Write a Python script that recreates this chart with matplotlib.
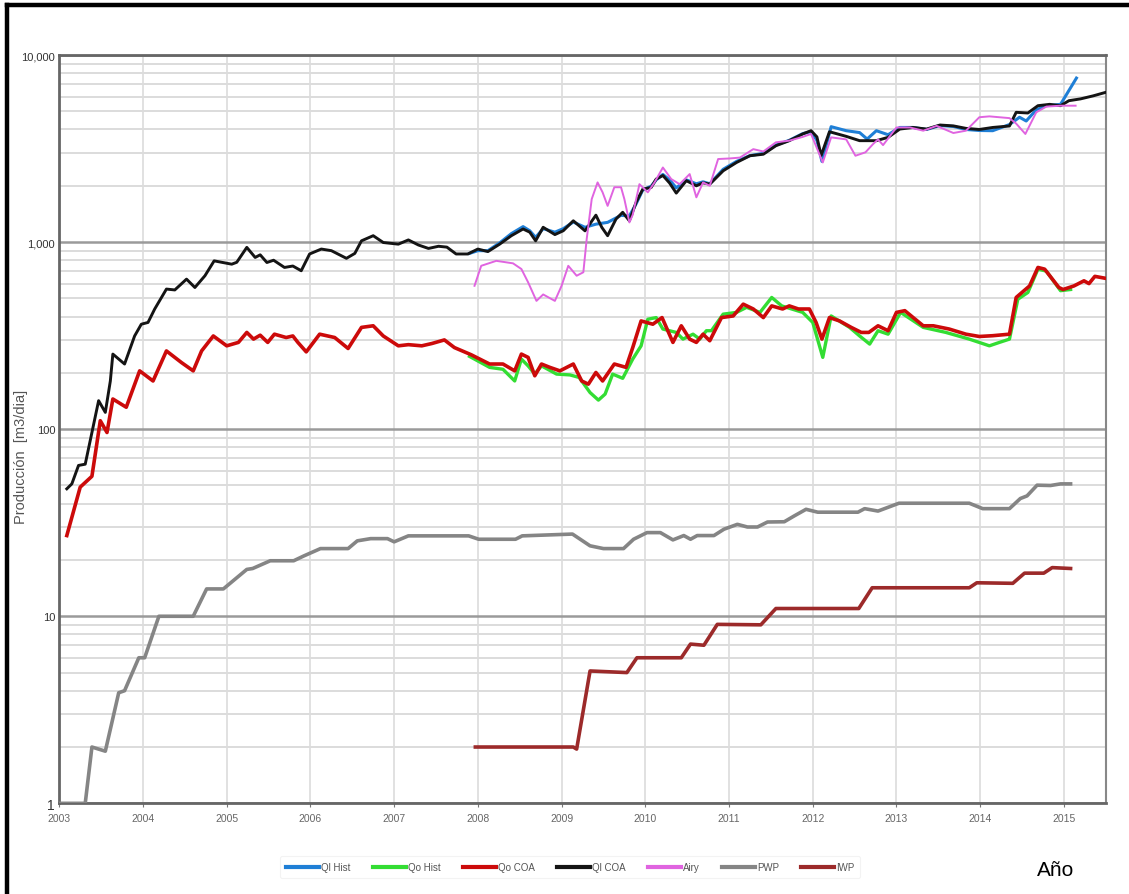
import matplotlib
matplotlib.use("Agg")
import matplotlib.pyplot as plt
from matplotlib.lines import Line2D
from matplotlib.ticker import FixedLocator, LogLocator, NullFormatter

plt.rcParams['font.family'] = ['Liberation Sans', 'DejaVu Sans']

# ---- data (decimal year, m3/dia) ----
qo_coa_t = [2003.09, 2003.25, 2003.39, 2003.49, 2003.57, 2003.64, 2003.80, 2003.96, 2004.12,
            2004.28, 2004.46, 2004.60, 2004.70, 2004.84, 2005.00, 2005.14, 2005.24, 2005.32,
            2005.40, 2005.49, 2005.57, 2005.71, 2005.79, 2005.85, 2005.95, 2006.11, 2006.29,
            2006.45, 2006.61, 2006.75, 2006.87, 2007.05, 2007.17, 2007.33, 2007.45, 2007.60,
            2007.72, 2007.92, 2008.14, 2008.30, 2008.44, 2008.52, 2008.60, 2008.68, 2008.76,
            2008.86, 2008.98, 2009.14, 2009.24, 2009.32, 2009.41, 2009.49, 2009.63, 2009.77,
            2009.85, 2009.95, 2010.09, 2010.20, 2010.33, 2010.43, 2010.53, 2010.61, 2010.69,
            2010.77, 2010.91, 2011.05, 2011.17, 2011.29, 2011.41, 2011.51, 2011.64, 2011.72,
            2011.83, 2011.96, 2012.04, 2012.11, 2012.20, 2012.32, 2012.46, 2012.58, 2012.67,
            2012.78, 2012.90, 2013.00, 2013.10, 2013.20, 2013.32, 2013.44, 2013.63, 2013.83,
            2013.99, 2014.15, 2014.35, 2014.43, 2014.59, 2014.69, 2014.77, 2014.94, 2014.99,
            2015.12, 2015.24, 2015.30, 2015.37, 2015.50]
qo_coa_v = [27, 49, 56, 111, 96, 145, 131, 205, 181,
            262, 227, 205, 262, 315, 279, 291, 329, 303,
            318, 291, 322, 309, 315, 291, 259, 322, 309,
            270, 350, 357, 315, 279, 283, 279, 287, 300,
            273, 250, 223, 223, 205, 252, 242, 193, 223,
            214, 205, 223, 181, 174, 201, 181, 223, 214,
            273, 379, 364, 395, 291, 357, 303, 291, 322,
            297, 395, 403, 466, 439, 395, 456, 439, 456,
            439, 439, 372, 303, 395, 379, 350, 329, 329,
            357, 336, 421, 430, 395, 357, 357, 343, 322,
            313, 316, 322, 506, 583, 732, 717, 572, 558,
            583, 621, 600, 656, 640]

qo_hist_t = [2007.90, 2008.14, 2008.30, 2008.44, 2008.52, 2008.60, 2008.68, 2008.76, 2008.94,
             2009.10, 2009.21, 2009.34, 2009.44, 2009.52, 2009.61, 2009.73, 2009.85, 2009.95,
             2010.03, 2010.13, 2010.21, 2010.37, 2010.45, 2010.57, 2010.65, 2010.73, 2010.79,
             2010.93, 2011.09, 2011.21, 2011.37, 2011.51, 2011.63, 2011.88, 2012.00, 2012.12,
             2012.22, 2012.44, 2012.56, 2012.68, 2012.78, 2012.90, 2013.05, 2013.32, 2013.59,
             2013.87, 2014.11, 2014.23, 2014.35, 2014.45, 2014.57, 2014.69, 2014.79, 2014.96,
             2015.08]
qo_hist_v = [245, 214, 209, 181, 237, 218, 197, 218, 197,
             195, 189, 157, 143, 154, 197, 187, 237, 279,
             387, 395, 343, 329, 303, 322, 303, 336, 336,
             412, 421, 448, 421, 506, 456, 421, 372, 242,
             403, 350, 315, 285, 336, 322, 421, 350, 329,
             303, 279, 291, 303, 495, 538, 717, 700, 550,
             558]

ql_coa_t = [2003.09, 2003.15, 2003.23, 2003.31, 2003.39, 2003.47, 2003.55, 2003.61, 2003.64,
            2003.78, 2003.90, 2003.98, 2004.06, 2004.14, 2004.28, 2004.38, 2004.52, 2004.62,
            2004.74, 2004.85, 2004.94, 2005.06, 2005.12, 2005.24, 2005.34, 2005.40, 2005.48,
            2005.56, 2005.69, 2005.79, 2005.89, 2005.99, 2006.13, 2006.25, 2006.43, 2006.53,
            2006.61, 2006.75, 2006.87, 2007.05, 2007.17, 2007.29, 2007.41, 2007.53, 2007.63,
            2007.74, 2007.88, 2008.00, 2008.12, 2008.26, 2008.40, 2008.54, 2008.62, 2008.69,
            2008.78, 2008.92, 2009.02, 2009.14, 2009.28, 2009.41, 2009.48, 2009.55, 2009.65,
            2009.73, 2009.81, 2009.89, 2009.97, 2010.07, 2010.13, 2010.21, 2010.29, 2010.37,
            2010.49, 2010.61, 2010.69, 2010.77, 2010.93, 2011.09, 2011.25, 2011.41, 2011.56,
            2011.72, 2011.88, 2011.98, 2012.05, 2012.10, 2012.20, 2012.40, 2012.56, 2012.76,
            2012.90, 2013.04, 2013.20, 2013.36, 2013.52, 2013.68, 2013.83, 2013.99, 2014.15,
            2014.35, 2014.43, 2014.57, 2014.69, 2014.83, 2014.96, 2015.06, 2015.20, 2015.35,
            2015.49]
ql_coa_v = [48, 51, 64, 65, 96, 142, 123, 181, 252,
            223, 315, 364, 372, 439, 561, 555, 634, 572,
            661, 794, 780, 762, 780, 937, 828, 855, 778,
            800, 732, 745, 703, 864, 918, 900, 819, 870,
            1016, 1082, 995, 975, 1027, 965, 925, 950, 940,
            864, 864, 918, 890, 975, 1082, 1175, 1130, 1016,
            1200, 1097, 1150, 1300, 1149, 1393, 1200, 1082, 1328,
            1443, 1300, 1630, 1918, 1960, 2172, 2270, 2070, 1828,
            2130, 2000, 2075, 2040, 2405, 2665, 2895, 2950, 3275,
            3485, 3785, 3940, 3650, 2900, 3890, 3675, 3485, 3485,
            3630, 4020, 4100, 4020, 4225, 4180, 4055, 4000, 4100,
            4175, 4940, 4900, 5360, 5450, 5360, 5700, 5830, 6050,
            6300]

ql_hist_t = [2007.90, 2008.00, 2008.12, 2008.26, 2008.40, 2008.54, 2008.62, 2008.69, 2008.78,
             2008.92, 2009.02, 2009.14, 2009.28, 2009.41, 2009.55, 2009.71, 2009.81, 2009.89,
             2009.97, 2010.07, 2010.13, 2010.21, 2010.29, 2010.37, 2010.49, 2010.61, 2010.69,
             2010.77, 2010.93, 2011.09, 2011.25, 2011.41, 2011.56, 2011.72, 2011.88, 2011.98,
             2012.05, 2012.11, 2012.22, 2012.40, 2012.56, 2012.65, 2012.76, 2012.90, 2013.04,
             2013.20, 2013.36, 2013.52, 2013.68, 2013.83, 2013.99, 2014.15, 2014.35, 2014.47,
             2014.55, 2014.67, 2014.79, 2014.96, 2015.15]
ql_hist_v = [870, 900, 900, 990, 1110, 1210, 1150, 1060, 1180,
             1130, 1180, 1280, 1200, 1247, 1275, 1390, 1380, 1600,
             1900, 1990, 2150, 2300, 2150, 1950, 2150, 2050, 2100,
             2050, 2450, 2700, 2900, 2980, 3300, 3500, 3800, 3900,
             3500, 2700, 4140, 3940, 3850, 3555, 3940, 3750, 4100,
             4100, 4000, 4200, 4150, 4000, 3950, 3940, 4250, 4650,
             4440, 5100, 5360, 5450, 7530]

airy_t = [2007.96, 2008.04, 2008.22, 2008.42, 2008.52, 2008.60, 2008.70, 2008.78, 2008.92,
          2009.00, 2009.08, 2009.18, 2009.26, 2009.30, 2009.36, 2009.43, 2009.49, 2009.55,
          2009.63, 2009.71, 2009.75, 2009.81, 2009.85, 2009.93, 2010.03, 2010.11, 2010.21,
          2010.31, 2010.41, 2010.53, 2010.61, 2010.69, 2010.77, 2010.87, 2011.01, 2011.13,
          2011.29, 2011.41, 2011.56, 2011.72, 2011.88, 2011.98, 2012.12, 2012.22, 2012.40,
          2012.51, 2012.63, 2012.72, 2012.78, 2012.84, 2013.00, 2013.16, 2013.32, 2013.48,
          2013.68, 2013.83, 2013.99, 2014.11, 2014.35, 2014.43, 2014.54, 2014.67, 2014.79,
          2014.96, 2015.14]
airy_v = [584, 747, 794, 770, 718, 610, 485, 525, 485,
          584, 747, 661, 690, 1038, 1698, 2085, 1845, 1562,
          1965, 1965, 1698, 1274, 1400, 2040, 1845, 2085, 2505,
          2172, 2040, 2310, 1735, 2085, 2000, 2780, 2800, 2830,
          3140, 3050, 3415, 3485, 3650, 3785, 2665, 3630, 3540,
          2895, 3020, 3340, 3540, 3300, 4100, 4100, 3940, 4180,
          3830, 3940, 4650, 4700, 4600, 4300, 3785, 4940, 5300,
          5360, 5360]

pwp_t = [2003.00, 2003.31, 2003.39, 2003.55, 2003.71, 2003.78, 2003.95, 2004.02, 2004.19,
         2004.60, 2004.76, 2004.96, 2005.24, 2005.31, 2005.52, 2005.80, 2005.92, 2006.12,
         2006.45, 2006.56, 2006.72, 2006.92, 2007.00, 2007.17, 2007.89, 2008.01, 2008.45,
         2008.53, 2009.13, 2009.34, 2009.50, 2009.74, 2009.86, 2010.02, 2010.18, 2010.33,
         2010.46, 2010.54, 2010.62, 2010.82, 2010.94, 2011.10, 2011.22, 2011.34, 2011.46,
         2011.66, 2011.78, 2011.92, 2012.06, 2012.54, 2012.62, 2012.78, 2013.03, 2013.87,
         2014.03, 2014.35, 2014.48, 2014.56, 2014.68, 2014.84, 2014.96, 2015.08]
pwp_v = [1.0, 1.0, 2.0, 1.9, 3.9, 4.0, 6.0, 6.0, 10,
         10, 14, 14, 17.8, 18, 19.8, 19.8, 21, 23,
         23, 25.3, 26, 26, 25, 26.9, 26.9, 25.8, 25.8,
         26.9, 27.5, 23.8, 23, 23, 25.8, 28, 28, 25.6,
         27, 25.8, 27, 27, 29.2, 31, 30, 30, 31.9,
         32, 34.4, 37.3, 36, 36, 37.6, 36.5, 40.2, 40.2,
         37.6, 37.6, 42.6, 44, 50.2, 50, 51, 51]

iwp_t = [2007.97, 2009.14, 2009.18, 2009.34, 2009.78, 2009.90, 2010.43, 2010.54, 2010.70,
         2010.86, 2011.38, 2011.56, 2012.55, 2012.71, 2013.87, 2013.96, 2014.39, 2014.53,
         2014.76, 2014.86, 2015.08]
iwp_v = [2.0, 2.0, 1.95, 5.1, 5.0, 6.0, 6.0, 7.1, 7.0,
         9.05, 9.0, 11, 11, 14.2, 14.2, 15.1, 15, 17,
         17, 18.2, 18]

years = list(range(2003, 2016))
ytick_vals = [1, 10, 100, 1000, 10000]
ytick_labels = ['1', '10', '100', '1,000', '10,000']

# ---- figure ----
fig = plt.figure(figsize=(11.29, 8.95), dpi=100)
ax = fig.add_axes([0.0525, 0.1013, 0.9269, 0.8361])

ax.plot(ql_hist_t, ql_hist_v, color='#1f7fd6', lw=2.2, label='Ql Hist', zorder=3)
ax.plot(qo_hist_t, qo_hist_v, color='#33dd33', lw=2.4, label='Qo Hist', zorder=3)
ax.plot(qo_coa_t, qo_coa_v, color='#cc0a0a', lw=2.6, label='Qo COA', zorder=4)
ax.plot(ql_coa_t, ql_coa_v, color='#141414', lw=2.1, label='Ql COA', zorder=4)
ax.plot(airy_t, airy_v, color='#e064e0', lw=1.4, label='Airy', zorder=5)
ax.plot(pwp_t, pwp_v, color='#858585', lw=2.6, label='PWP', zorder=3)
ax.plot(iwp_t, iwp_v, color='#9c2a2a', lw=2.6, label='IWP', zorder=3)

ax.set_yscale('log')
ax.set_ylim(1, 10000)
ax.set_xlim(2003, 2015.5)

ax.yaxis.set_major_locator(FixedLocator(ytick_vals))
ax.set_yticklabels(ytick_labels)
ax.yaxis.set_minor_locator(LogLocator(base=10, subs=range(2, 10)))
ax.yaxis.set_minor_formatter(NullFormatter())
ax.set_xticks(years)
ax.set_xticklabels([str(y) for y in years])

ax.grid(which='major', axis='y', color='#9a9a9a', lw=1.8)
ax.grid(which='minor', axis='y', color='#dcdcdc', lw=1.4)
ax.grid(which='major', axis='x', color='#dcdcdc', lw=1.2)
ax.set_axisbelow(True)

ax.tick_params(axis='both', which='both', length=0, pad=4)
ax.tick_params(axis='x', which='major', length=3, color='#777777', labelsize=7.5,
               labelcolor='#666666')
ax.tick_params(axis='y', which='major', labelsize=8, labelcolor='#333333', pad=3)
ax.get_yticklabels()[0].set_fontsize(10)

for side in ['left', 'bottom', 'top']:
    ax.spines[side].set_color('#666666')
    ax.spines[side].set_linewidth(2.0)
ax.spines['right'].set_color('#888888')
ax.spines['right'].set_linewidth(1.5)

fig.text(0.019, 0.49, 'Producción  [m3/dia]', rotation=90, ha='center', va='center',
         fontsize=10.5, color='#555555')

handles, labels = ax.get_legend_handles_labels()
leg = fig.legend(handles, labels, loc='center', bbox_to_anchor=(0.505, 0.03), ncol=7,
                 fontsize=7, frameon=True, handlelength=3.4, handletextpad=0.2,
                 columnspacing=2.3, borderpad=0.6)
leg.get_frame().set_edgecolor('#f0f0f0')
leg.get_frame().set_linewidth(0.8)
for line in leg.get_lines():
    line.set_linewidth(3.0)
for t in leg.get_texts():
    t.set_color('#555555')

fig.text(0.935, 0.027, 'Año', fontsize=15, color='black', ha='center', va='center')

# outer frame (top and left edges are visible in the original)
fig.add_artist(Line2D([0.0062, 0.0062], [0, 0.9938], transform=fig.transFigure,
                      color='black', lw=3.2))
fig.add_artist(Line2D([0.0062, 1.0], [0.9938, 0.9938], transform=fig.transFigure,
                      color='black', lw=3.2))

fig.savefig('out.png', dpi=100, facecolor='white')
